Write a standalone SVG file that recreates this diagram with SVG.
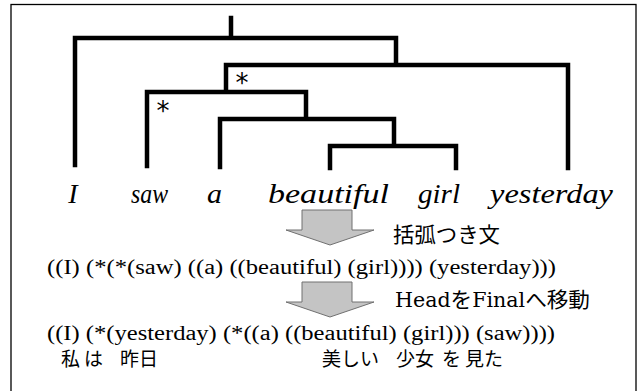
<svg xmlns="http://www.w3.org/2000/svg" width="639" height="391" viewBox="0 0 639 391">
<style>
.frame{fill:#fff;stroke:#000;stroke-width:1.3}
.tree{fill:none;stroke:#000;stroke-width:4.5;stroke-linejoin:miter;stroke-linecap:square}
.word{font-family:"Liberation Serif","Times New Roman",serif;font-style:italic;font-size:28px;fill:#000}
.star{font-family:"DejaVu Sans","Liberation Sans",sans-serif;font-size:26px;fill:#000}
.br{font-family:"Liberation Serif","Times New Roman",serif;font-size:20px;fill:#000}
.jp{font-family:"Noto Sans CJK JP","Noto Sans CJK SC",sans-serif;font-size:19px;fill:#000}
.lbl{font-family:"Noto Sans CJK JP","Noto Sans CJK SC",sans-serif;font-size:21px;fill:#000}
.lat{font-family:"DejaVu Serif","Liberation Serif",serif;font-size:20px}
.arrow{fill:#c4c4c4;stroke:#707070;stroke-width:1}
</style>
<rect class="frame" x="11" y="4.5" width="625" height="392"/>
<g id="connectors">
<path class="tree" d="M231 18V38M75 165V38H396V65M226 92V65H568V168M147 166V92H306V119M220 167V119H394V146M330 168V146H456V168"/>
<text class="star" x="242" y="92" text-anchor="middle">*</text>
<text class="star" x="163" y="120" text-anchor="middle">*</text>
</g>
<g id="node-I"><text class="word" x="73" y="203" text-anchor="middle">I</text></g>
<g id="node-saw"><text class="word" x="131" y="203" textLength="37" lengthAdjust="spacingAndGlyphs">saw</text></g>
<g id="node-a"><text class="word" x="207" y="203" textLength="15" lengthAdjust="spacingAndGlyphs">a</text></g>
<g id="node-beautiful"><text class="word" x="268" y="203" textLength="121" lengthAdjust="spacingAndGlyphs">beautiful</text></g>
<g id="node-girl"><text class="word" x="418" y="203" textLength="42" lengthAdjust="spacingAndGlyphs">girl</text></g>
<g id="node-yesterday"><text class="word" x="490" y="203" textLength="123" lengthAdjust="spacingAndGlyphs">yesterday</text></g>
<g id="arrow1"><path class="arrow" d="M302 210H352V230H374L330 245L286 230H302Z"/></g>
<g id="label1"><text class="lbl" x="393" y="242" textLength="107" lengthAdjust="spacingAndGlyphs">括弧つき文</text></g>
<g id="bracket1"><text class="br" x="47" y="274" textLength="509" lengthAdjust="spacingAndGlyphs">((I) (*(*(saw) ((a) ((beautiful) (girl)))) (yesterday)))</text></g>
<g id="arrow2"><path class="arrow" d="M302 282H352V302H374L330 317L286 302H302Z"/></g>
<g id="label2"><text class="lbl" x="395" y="307" textLength="195" lengthAdjust="spacingAndGlyphs"><tspan class="lat">Head</tspan>を<tspan class="lat">Final</tspan>へ移動</text></g>
<g id="bracket2"><text class="br" x="47" y="340" textLength="508" lengthAdjust="spacingAndGlyphs">((I) (*(yesterday) (*((a) ((beautiful) (girl))) (saw))))</text></g>
<g id="japanese">
<text class="jp" x="61" y="366">私</text>
<text class="jp" x="84" y="366">は</text>
<text class="jp" x="120" y="366">昨日</text>
<text class="jp" x="322" y="366">美しい</text>
<text class="jp" x="396" y="366">少女</text>
<text class="jp" x="442" y="366">を</text>
<text class="jp" x="465" y="366">見た</text>
</g>
</svg>
